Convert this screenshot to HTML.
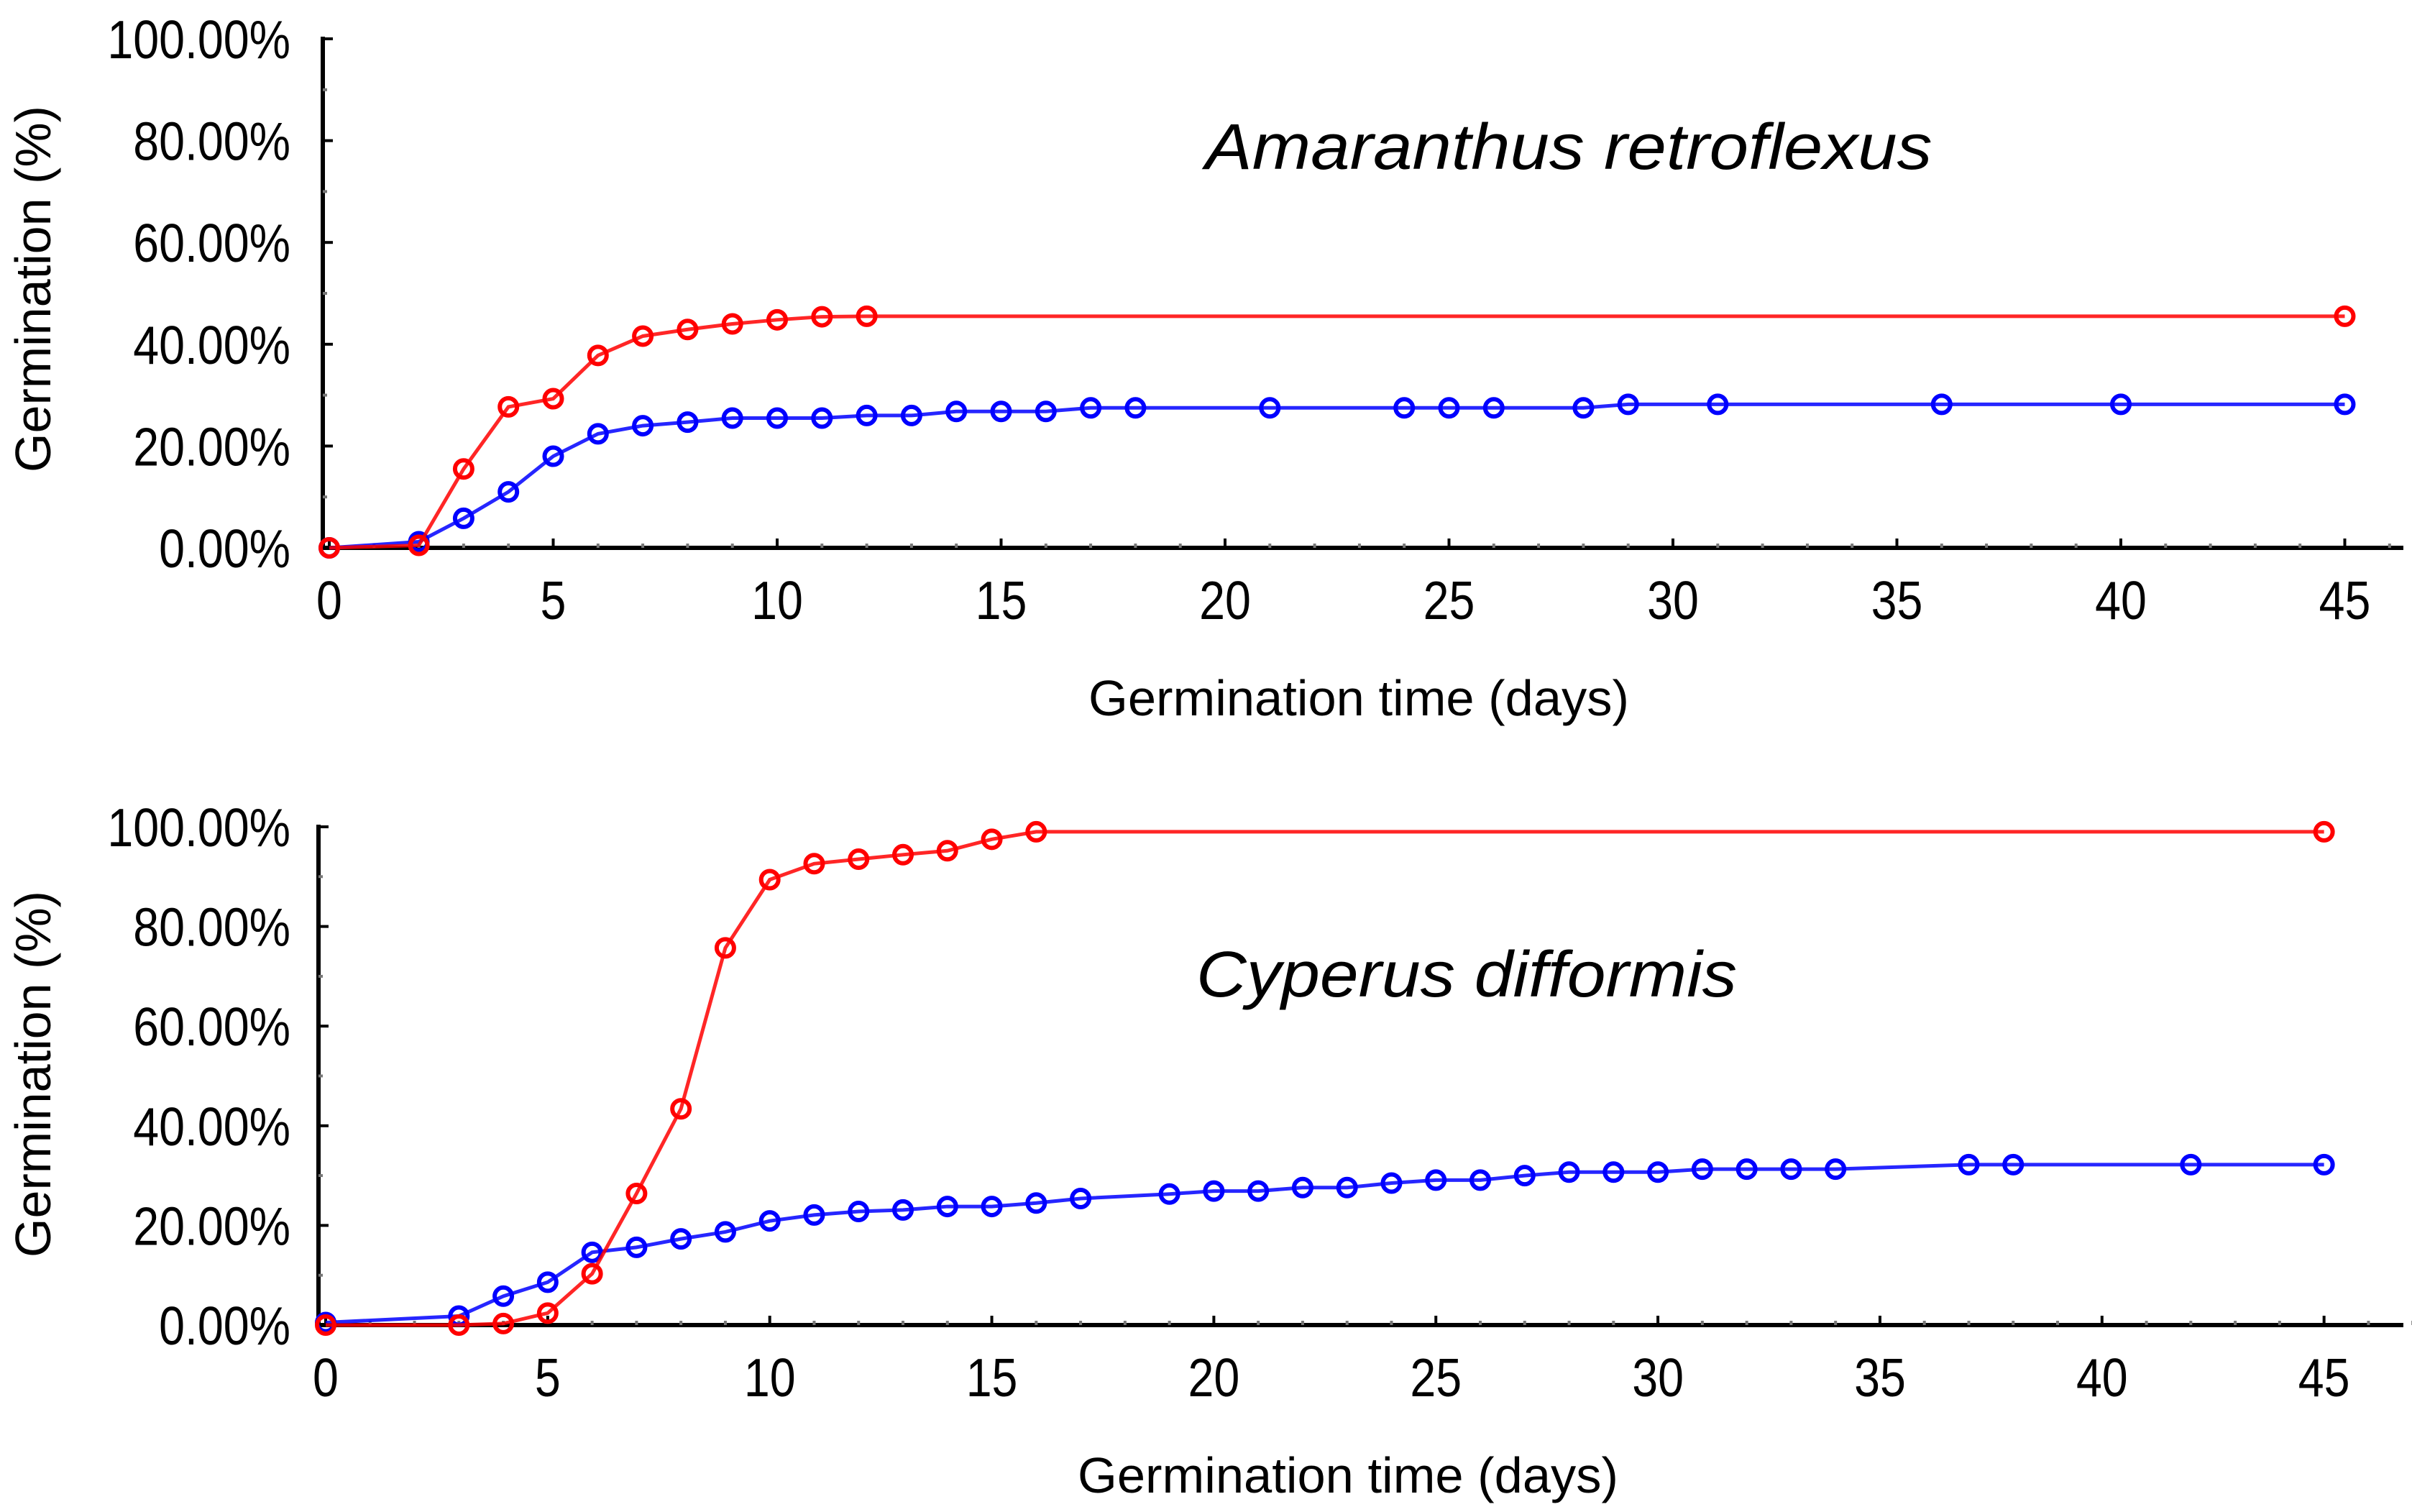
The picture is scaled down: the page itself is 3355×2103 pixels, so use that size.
<!DOCTYPE html>
<html><head><meta charset="utf-8"><style>
html,body{margin:0;padding:0;background:#fff;}
svg{display:block;}
text{font-family:"Liberation Sans",sans-serif;fill:#000;}
</style></head><body>
<svg id="chart" width="3355" height="2103" viewBox="0 0 3355 2103" xmlns="http://www.w3.org/2000/svg"></svg>
<script>
// ---- Data: Amaranthus retroflexus ----
const amaRedDays = [0, 2, 3, 4, 5, 6, 7, 8, 9, 10, 11, 12, 45];
const amaRedVals = [0, 0.5, 15.5, 27.7, 29.3, 37.8, 41.6, 42.9, 44.0, 44.8, 45.4, 45.5, 45.5];
const amaBlueDays = [0, 2, 3, 4, 5, 6, 7, 8, 9, 10, 11, 12, 13, 14, 15, 16, 17, 18, 21, 24, 25, 26, 28, 29, 31, 36, 40, 45];
const amaBlueVals = [0, 1.2, 5.8, 11, 18, 22.4, 24, 24.7, 25.5, 25.5, 25.5, 26, 26, 26.8, 26.8, 26.8, 27.5, 27.5, 27.5, 27.5, 27.5, 27.5, 27.5, 28.2, 28.2, 28.2, 28.2, 28.2];
// ---- Data: Cyperus difformis ----
const cypRedDays = [0, 3, 4, 5, 6, 7, 8, 9, 10, 11, 12, 13, 14, 15, 16, 45];
const cypRedVals = [0, 0, 0.3, 2.4, 10.3, 26.4, 43.4, 75.7, 89.4, 92.6, 93.5, 94.4, 95.2, 97.5, 99, 99];
const cypBlueDays = [0, 3, 4, 5, 6, 7, 8, 9, 10, 11, 12, 13, 14, 15, 16, 17, 19, 20, 21, 22, 23, 24, 25, 26, 27, 28, 29, 30, 31, 32, 33, 34, 37, 38, 42, 45];
const cypBlueVals = [0.5, 1.8, 5.8, 8.6, 14.6, 15.6, 17.3, 18.7, 20.9, 22.1, 22.8, 23.1, 23.8, 23.8, 24.5, 25.4, 26.3, 26.9, 26.9, 27.6, 27.6, 28.5, 29.1, 29.1, 30, 30.7, 30.7, 30.7, 31.3, 31.3, 31.3, 31.3, 32.2, 32.2, 32.2, 32.2];
const xTickLabels = ["0","5","10","15","20","25","30","35","40","45"];
const yTickLabels = ["0.00%","20.00%","40.00%","60.00%","80.00%","100.00%"];

const NS = "http://www.w3.org/2000/svg";
const svg = document.getElementById("chart");
function mk(tag, attrs, parent) {
  const e = document.createElementNS(NS, tag);
  for (const k in attrs) e.setAttribute(k, attrs[k]);
  (parent || svg).appendChild(e);
  return e;
}

function panel(cfg) {
  const g = mk("g", {});
  
  
  const X = d => cfg.x0 + d * cfg.dx;
  const Y = v => cfg.y0 - v * (cfg.y0 - cfg.y100) / 100;
  const ax = mk("line", {x1: cfg.axX, y1: cfg.y0, x2: 3343, y2: cfg.y0, stroke: "#000", "stroke-width": 6}, g);
  
  
  const ay = mk("line", {x1: cfg.axX, y1: cfg.y100 - 3, x2: cfg.axX, y2: cfg.y0 + 3, stroke: "#000", "stroke-width": 6}, g);
  
  
  for (let d = 0; d <= 47; d++) {
    const major = d % 5 === 0;
    mk("line", {x1: X(d), y1: cfg.y0, x2: X(d), y2: cfg.y0 - (major ? 13 : 6), stroke: major ? "#000" : "#777", "stroke-width": 4}, g);
  }
  xTickLabels.forEach((lab) => {
    const d = +lab;
    const t = mk("text", {x: 0, y: 0, "font-size": 75, "text-anchor": "middle", transform: `translate(${X(d)},${cfg.y0 + 99}) scale(0.86,1)`}, g);
    t.textContent = lab;
    
    
  });
  for (let v = 0; v <= 100; v += 10) {
    const major = v % 20 === 0;
    mk("line", {x1: cfg.axX, y1: Y(v), x2: cfg.axX + (major ? 14 : 6), y2: Y(v), stroke: major ? "#000" : "#777", "stroke-width": 4}, g);
  }
  yTickLabels.forEach((lab, i) => {
    const v = i * 20;
    const t = mk("text", {x: 0, y: 0, "font-size": 75, "text-anchor": "end", transform: `translate(404,${Y(v) + 27}) scale(0.86,1)`}, g);
    t.textContent = lab;
    
    
  });
  const xt = mk("text", {x: cfg.xtX, y: cfg.xtY, "font-size": 70, "text-anchor": "middle", textLength: 752, lengthAdjust: "spacingAndGlyphs"}, g);
  xt.textContent = "Germination time (days)";
  
  
  const yt = mk("text", {x: 0, y: 0, "font-size": 70, "text-anchor": "middle", textLength: 510, lengthAdjust: "spacingAndGlyphs", transform: `translate(70,${cfg.ytY}) rotate(-90)`}, g);
  yt.textContent = "Germination (%)";
  
  
  const tt = mk("text", {x: cfg.titleX, y: cfg.titleY, "font-size": 90, "font-style": "italic", "text-anchor": "middle", textLength: cfg.titleLen, lengthAdjust: "spacingAndGlyphs"}, g);
  tt.textContent = cfg.title;
  
  
  cfg.series.forEach(s => {
    const pts = s.days.map((d, i) => X(d) + "," + Y(s.vals[i])).join(" ");
    const pl = mk("polyline", {points: pts, fill: "none", stroke: s.color, "stroke-width": 5, "stroke-opacity": 0.85}, g);
    
    
    s.days.forEach((d, i) => {
      const c = mk("circle", {cx: X(d), cy: Y(s.vals[i]), r: 12, fill: "none", stroke: s.color, "stroke-width": 6}, g);
      
      
    });
  });
}

panel({name: "amaranthus-panel", x0: 458, dx: 62.3, y0: 762, y100: 54, axX: 449,
  xtX: 1890, xtY: 995, ytY: 402, title: "Amaranthus retroflexus", titleX: 2182, titleY: 235, titleLen: 1011,
  series: [
    {name: "amaranthus-blue", color: "#0000ff", days: amaBlueDays, vals: amaBlueVals},
    {name: "amaranthus-red", color: "#ff0000", days: amaRedDays, vals: amaRedVals}
  ]});
panel({name: "cyperus-panel", x0: 453, dx: 61.77, y0: 1843, y100: 1150, axX: 443,
  xtX: 1875, xtY: 2076, ytY: 1494, title: "Cyperus difformis", titleX: 2040, titleY: 1386, titleLen: 752,
  series: [
    {name: "cyperus-blue", color: "#0000ff", days: cypBlueDays, vals: cypBlueVals},
    {name: "cyperus-red", color: "#ff0000", days: cypRedDays, vals: cypRedVals}
  ]});
</script>
</body></html>
